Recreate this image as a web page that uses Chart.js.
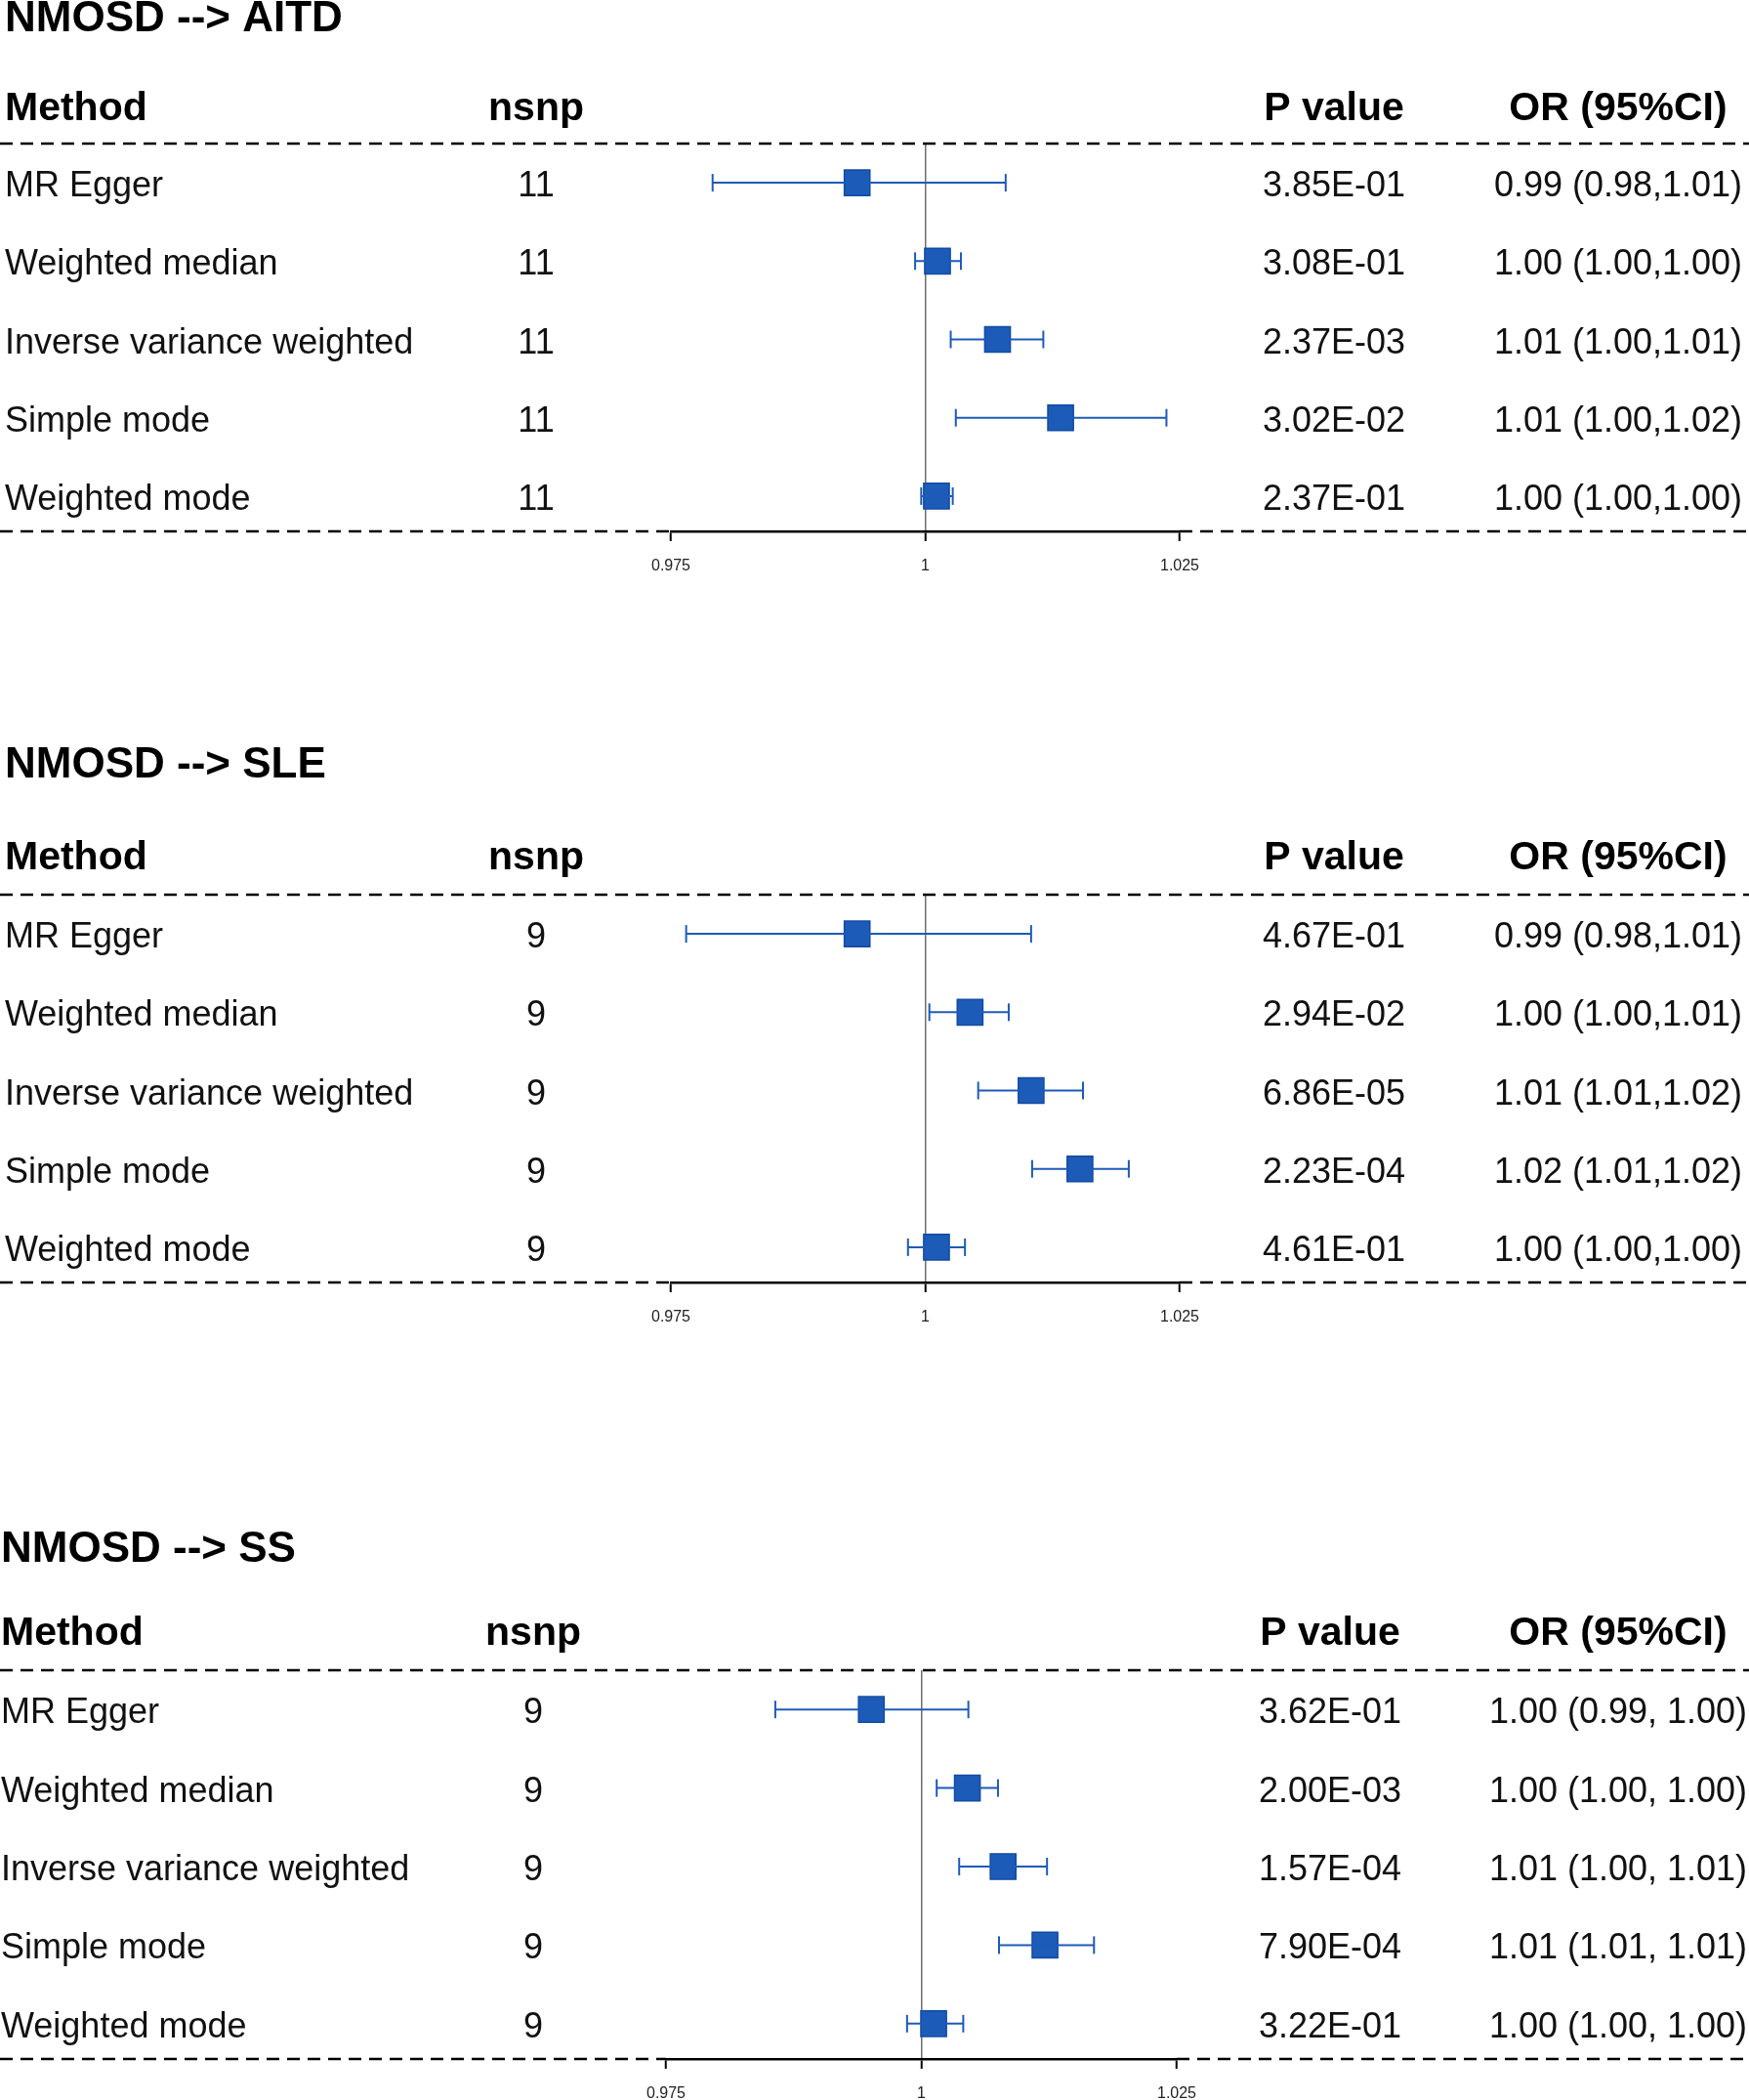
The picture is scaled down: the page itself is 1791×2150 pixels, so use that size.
<!DOCTYPE html>
<html>
<head>
<meta charset="utf-8">
<script src="https://cdn.jsdelivr.net/npm/chart.js@4.4.1/dist/chart.umd.min.js"></script>
<style>
  html, body { margin: 0; padding: 0; background: #fff; overflow: hidden; }
  #page { position: relative; width: 1791px; height: 2150px; }
  canvas { position: absolute; left: 0; }
</style>
</head>
<body>
<div id="page">
  <canvas id="aitd" width="1791" height="720" style="top:0px"></canvas>
  <canvas id="sle" width="1791" height="780" style="top:720px"></canvas>
  <canvas id="ss" width="1791" height="650" style="top:1500px"></canvas>
</div>
<script>
// Data
const methods = ['MR Egger', 'Weighted median', 'Inverse variance weighted', 'Simple mode', 'Weighted mode'];
const xTicks = [0.975, 1, 1.025];

const titleAITD = 'NMOSD --> AITD';
const nsnpAITD = [11, 11, 11, 11, 11];
const orAITD = [0.9933, 1.0012, 1.0071, 1.0133, 1.0011];
const loAITD = [0.9791, 0.9990, 1.0025, 1.0030, 0.9996];
const hiAITD = [1.0079, 1.0035, 1.0116, 1.0237, 1.0027];
const pAITD = ['3.85E-01', '3.08E-01', '2.37E-03', '3.02E-02', '2.37E-01'];
const ciAITD = ['0.99 (0.98,1.01)', '1.00 (1.00,1.00)', '1.01 (1.00,1.01)', '1.01 (1.00,1.02)', '1.00 (1.00,1.00)'];

const titleSLE = 'NMOSD --> SLE';
const nsnpSLE = [9, 9, 9, 9, 9];
const orSLE = [0.9933, 1.0044, 1.0104, 1.0152, 1.0011];
const loSLE = [0.9765, 1.0004, 1.0052, 1.0105, 0.9983];
const hiSLE = [1.0104, 1.0082, 1.0155, 1.0200, 1.0039];
const pSLE = ['4.67E-01', '2.94E-02', '6.86E-05', '2.23E-04', '4.61E-01'];
const ciSLE = ['0.99 (0.98,1.01)', '1.00 (1.00,1.01)', '1.01 (1.01,1.02)', '1.02 (1.01,1.02)', '1.00 (1.00,1.00)'];

const titleSS = 'NMOSD --> SS';
const nsnpSS = [9, 9, 9, 9, 9];
const orSS = [0.9951, 1.0045, 1.0080, 1.0121, 1.0012];
const loSS = [0.9857, 1.0015, 1.0037, 1.0076, 0.9986];
const hiSS = [1.0046, 1.0075, 1.0123, 1.0169, 1.0041];
const pSS = ['3.62E-01', '2.00E-03', '1.57E-04', '7.90E-04', '3.22E-01'];
const ciSS = ['1.00 (0.99, 1.00)', '1.00 (1.00, 1.00)', '1.01 (1.00, 1.01)', '1.01 (1.01, 1.01)', '1.00 (1.00, 1.00)'];

// Look and placement
const FONT = '"Liberation Sans", Arial, sans-serif';
const BLUE = '#1d5bb8';
const BLUE_DARK = '#124ba3';
const AXIS_H = 42;

function drawDash(ctx, x0, x1, y) {
  ctx.save();
  ctx.strokeStyle = '#000';
  ctx.lineWidth = 2.5;
  ctx.setLineDash([13, 8]);
  ctx.beginPath();
  ctx.moveTo(x0, y);
  ctx.lineTo(x1, y);
  ctx.stroke();
  ctx.restore();
}

// draws the table text and dashed rules around the plot
const tablePlugin = {
  id: 'forestTable',
  afterDraw(chart, args, opts) {
    const ctx = chart.ctx;
    const area = chart.chartArea;
    const y = chart.scales.y;
    const W = chart.width;
    const L = opts.lay;
    const d = opts.rows;

    drawDash(ctx, 0, W, area.top);
    drawDash(ctx, 0, area.left, area.bottom);
    drawDash(ctx, area.right, W, area.bottom);

    ctx.save();
    ctx.fillStyle = '#000';
    ctx.textBaseline = 'alphabetic';

    ctx.font = 'bold 44px ' + FONT;
    ctx.textAlign = 'left';
    ctx.fillText(d.title, L.colMethod, L.titleY);

    ctx.font = 'bold 41px ' + FONT;
    ctx.fillText('Method', L.colMethod, L.headY);
    ctx.textAlign = 'center';
    ctx.fillText('nsnp', L.colN, L.headY);
    ctx.fillText('P value', L.colP, L.headY);
    ctx.fillText('OR (95%CI)', L.colOR, L.headY);

    ctx.font = '36px ' + FONT;
    ctx.fillStyle = '#111';
    methods.forEach((m, i) => {
      const yy = y.getPixelForValue(i) + 14;
      ctx.textAlign = 'left';
      ctx.fillText(m, L.colMethod, yy);
      ctx.textAlign = 'center';
      ctx.fillText(String(d.nsnp[i]), L.colN, yy);
      ctx.fillText(d.p[i], L.colP, yy);
      ctx.fillText(d.ci[i], L.colOR, yy);
    });
    ctx.restore();
  }
};

function makePanel(id, rows, lay) {
  const ctx = document.getElementById(id).getContext('2d');
  const H = ctx.canvas.height;
  const datasets = [];
  // one line per confidence interval, caps drawn as rotated line points
  methods.forEach((m, i) => {
    datasets.push({
      label: m + ' CI',
      data: [{ x: rows.lo[i], y: i }, { x: rows.hi[i], y: i }],
      showLine: true,
      borderColor: BLUE,
      borderWidth: 2,
      pointStyle: 'line',
      rotation: 90,
      pointRadius: 9,
      pointBorderColor: BLUE,
      pointBorderWidth: 2
    });
  });
  datasets.push({
    label: 'OR',
    data: rows.or.map((v, i) => ({ x: v, y: i })),
    pointStyle: 'rect',
    pointRadius: 18.5,
    backgroundColor: BLUE,
    borderColor: BLUE_DARK,
    borderWidth: 1.5
  });

  return new Chart(ctx, {
    type: 'scatter',
    data: { datasets: datasets },
    options: {
      responsive: false,
      animation: false,
      events: [],
      layout: {
        padding: {
          left: lay.axisL,
          right: 1791 - lay.axisR,
          top: lay.dashY,
          bottom: H - lay.bottomY - AXIS_H
        }
      },
      plugins: {
        legend: { display: false },
        tooltip: { enabled: false },
        forestTable: { lay: lay, rows: rows }
      },
      scales: {
        x: {
          type: 'linear',
          min: 0.975,
          max: 1.025,
          afterBuildTicks: (s) => { s.ticks = xTicks.map(v => ({ value: v })); },
          afterFit: (s) => { s.height = AXIS_H; },
          grid: {
            color: (c) => (c.tick && c.tick.value === 1) ? '#6e6e6e' : 'rgba(0,0,0,0)',
            lineWidth: 1.5,
            tickLength: 10,
            tickColor: '#000',
            tickWidth: 2
          },
          border: { color: '#000', width: 2.5 },
          ticks: {
            color: '#222',
            font: { family: FONT, size: 16, lineHeight: 1 },
            padding: 18,
            maxRotation: 0,
            autoSkip: false,
            callback: (v) => String(v)
          }
        },
        y: {
          type: 'linear',
          reverse: true,
          min: -0.5,
          max: 4.45,
          display: false
        }
      }
    },
    plugins: [tablePlugin]
  });
}

const layoutAITD = { titleY: 32, headY: 123, dashY: 147, bottomY: 544, axisL: 687, axisR: 1208, colMethod: 5, colN: 549, colP: 1366, colOR: 1657 };
const layoutSLE = { titleY: 76, headY: 170, dashY: 196, bottomY: 593, axisL: 687, axisR: 1208, colMethod: 5, colN: 549, colP: 1366, colOR: 1657 };
const layoutSS = { titleY: 99, headY: 184, dashY: 210, bottomY: 608, axisL: 682, axisR: 1205, colMethod: 1, colN: 546, colP: 1362, colOR: 1657 };

makePanel('aitd', { title: titleAITD, nsnp: nsnpAITD, or: orAITD, lo: loAITD, hi: hiAITD, p: pAITD, ci: ciAITD }, layoutAITD);
makePanel('sle', { title: titleSLE, nsnp: nsnpSLE, or: orSLE, lo: loSLE, hi: hiSLE, p: pSLE, ci: ciSLE }, layoutSLE);
makePanel('ss', { title: titleSS, nsnp: nsnpSS, or: orSS, lo: loSS, hi: hiSS, p: pSS, ci: ciSS }, layoutSS);
</script>
</body>
</html>
